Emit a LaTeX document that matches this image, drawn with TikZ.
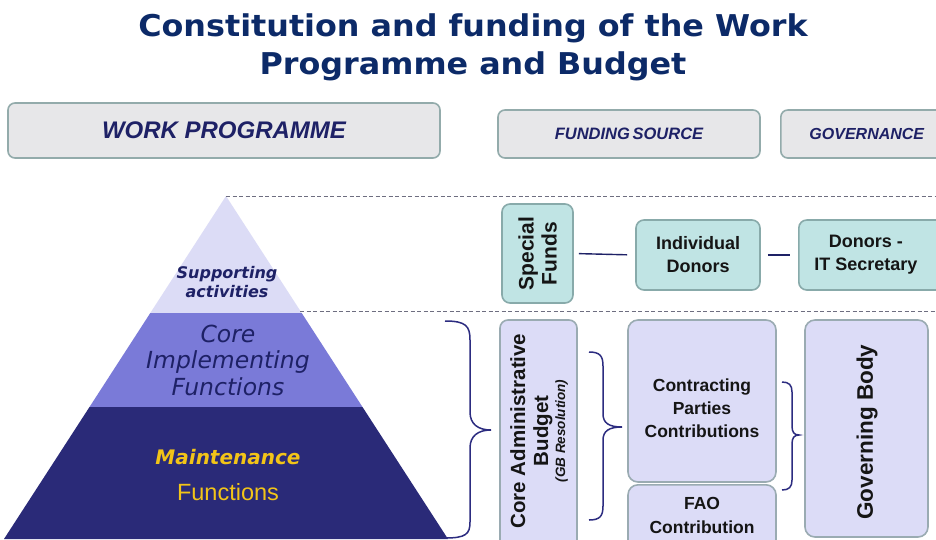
\documentclass[tikz,border=0pt]{standalone}
\usepackage{fontspec}
\setmainfont{Liberation Sans}
\newfontfamily\verd{DejaVu Sans}
\newfontfamily\verdtitle{DejaVu Sans}[FakeStretch=1.06]

\definecolor{navy}{HTML}{1E2166}
\definecolor{titleblue}{HTML}{0C2A68}
\definecolor{headfill}{HTML}{E7E7E9}
\definecolor{headline}{HTML}{93ABAB}
\definecolor{tealfill}{HTML}{C0E4E4}
\definecolor{tealline}{HTML}{88AAAA}
\definecolor{lavfill}{HTML}{DCDCF7}
\definecolor{lavline}{HTML}{9AABB2}
\definecolor{pyrlight}{HTML}{DCDCF6}
\definecolor{pyrmid}{HTML}{7A7AD8}
\definecolor{pyrdark}{HTML}{2A2A78}
\definecolor{gold}{HTML}{F2C418}
\definecolor{dashgray}{HTML}{6E6E80}
\definecolor{bracecol}{HTML}{2C2C80}
\definecolor{boxtext}{HTML}{151515}

\tikzset{
  headbox/.style={draw=headline, fill=headfill, line width=1.6pt, rounded corners=7pt,
    inner sep=0pt, text=navy, font=\bfseries\itshape},
  tealbox/.style={draw=tealline, fill=tealfill, line width=1.6pt, rounded corners=8pt,
    inner sep=0pt, align=center, text=boxtext, font=\bfseries\fontsize{18}{23}\selectfont},
  lavbox/.style={draw=lavline, fill=lavfill, line width=1.6pt, rounded corners=10pt,
    inner sep=0pt, align=center, text=boxtext, font=\bfseries\fontsize{17.5}{23}\selectfont},
  boxlbl/.style={inner sep=0pt, align=center, text=boxtext, font=\bfseries\fontsize{17.5}{23}\selectfont},
  linkline/.style={draw=navy, line width=1.4pt},
  sepline/.style={draw=dashgray, line width=1pt, dash pattern=on 4pt off 2.5pt},
  bracepath/.style={draw=bracecol, line width=1.5pt},
  lbl/.style={inner sep=0pt, align=center}
}

\begin{document}
\begin{tikzpicture}[x=1pt, y=-1pt]
\useasboundingbox[fill=white] (0,0) rectangle (936,539);

% title
\node[lbl, text=titleblue, font=\verdtitle\bfseries\fontsize{30}{38}\selectfont] (title)
  at (473,47) {Constitution and funding of the Work\\Programme and Budget};

% column headers
\node[headbox, minimum width=432pt, minimum height=55pt, font=\bfseries\itshape\fontsize{24}{26}\selectfont]
  (wp) at (224,130.5) {WORK PROGRAMME};
\node[headbox, minimum width=262pt, minimum height=48pt, font=\bfseries\itshape\fontsize{16.5}{18}\selectfont]
  (fs) at (629,134) {FUNDING\,SOURCE};
\node[headbox, minimum width=200pt, minimum height=48pt, anchor=west, font=\bfseries\itshape\fontsize{16}{18}\selectfont]
  (gov) at (780,134) {\hspace*{-28pt}GOVERNANCE};

% pyramid layers
\coordinate (apex) at (226,196);
\fill[pyrlight] (apex) -- (301.7,313) -- (150.3,313) -- cycle;
\fill[pyrmid] (150.3,313) -- (301.7,313) -- (362.5,407) -- (89.5,407) -- cycle;
\fill[pyrdark] (89.5,407) -- (362.5,407) -- (448,539) -- (4,539) -- cycle;

\node[lbl, text=navy, font=\verd\bfseries\itshape\fontsize{16}{19}\selectfont] (supp)
  at (227,282) {Supporting\\activities};
\node[lbl, text=navy, font=\verd\itshape\fontsize{23.5}{26.5}\selectfont] (core)
  at (228,360) {Core\\Implementing\\Functions};
\node[lbl, text=gold, font=\verd\bfseries\itshape\fontsize{20}{24}\selectfont] (maint)
  at (228,457) {Maintenance};
\node[lbl, text=gold, font=\fontsize{23.5}{26}\selectfont] (mfun) at (228,492) {Functions};

% dashed separators
\coordinate (sepA) at (936,196);
\coordinate (sepB0) at (300,311);
\coordinate (sepB) at (936,311);
\draw[sepline] (apex) -- (sepA);
\draw[sepline] (sepB0) -- (sepB);

% special funds row
\node[tealbox, rotate=90, minimum width=99pt, minimum height=71pt, font=\bfseries\fontsize{21}{23}\selectfont] (sf)
  at (537.5,253.5) {Special\\Funds};
\node[tealbox, minimum width=124pt, minimum height=70pt] (ind)
  at (698,255) {Individual\\Donors};
\node[tealbox, minimum width=160pt, minimum height=70pt, anchor=west] (don)
  at (798,255) {\hspace*{-26pt}Donors -\\\hspace*{-26pt}IT Secretary};
\draw[linkline, shorten <=5pt, shorten >=8pt] (sf.south) -- (ind.west);
\draw[linkline, shorten <=7pt, shorten >=8pt] (ind.east) -- (don.west);

% core budget row
\node[lavbox, rotate=90, minimum width=232pt, minimum height=77pt, rounded corners=8pt] (cab)
  at (538.5,436) {};
\node[boxlbl, rotate=90, font=\bfseries\fontsize{20.5}{23}\selectfont] (cabt)
  at (539,431) {Core Administrative\\Budget\\[-6pt]{\fontsize{13.5}{14}\selectfont\itshape(GB Resolution)}};
\node[lavbox, minimum width=148pt, minimum height=162pt] (cpc) at (702,401) {};
\node[boxlbl] (cpct) at (702,408) {Contracting\\Parties\\Contributions};
\node[lavbox, minimum width=148pt, minimum height=70pt, anchor=north] (fao) at (702,484) {};
\node[boxlbl, font=\bfseries\fontsize{17.5}{24}\selectfont] (faot) at (702,515) {FAO\\Contribution};
\node[lavbox, rotate=90, minimum width=217pt, minimum height=123pt] (gb) at (866.5,428.5) {};
\node[boxlbl, rotate=90, font=\bfseries\fontsize{22.5}{24}\selectfont] (gbt) at (867,432) {Governing Body};

% braces
\draw[bracepath] (445,321) .. controls (466,321) and (470,326) .. (470,340)
  -- (470,412) .. controls (470,424) and (478,430) .. (491,430)
  .. controls (478,430) and (470,436) .. (470,448)
  -- (470,522) .. controls (470,534) and (466,538) .. (445,538);
\draw[bracepath] (589,352) .. controls (600,352) and (603,356) .. (603,366)
  -- (603,414) .. controls (603,423) and (609,427) .. (622,427)
  .. controls (609,427) and (603,431) .. (603,440)
  -- (603,506) .. controls (603,516) and (600,520) .. (589,520);
\draw[bracepath] (782,382) .. controls (789,382) and (792,385) .. (792,392)
  -- (792,426) .. controls (792,432) and (794,435) .. (799,435)
  .. controls (794,435) and (792,438) .. (792,444)
  -- (792,480) .. controls (792,487) and (789,490) .. (782,490);
\end{tikzpicture}
\end{document}
